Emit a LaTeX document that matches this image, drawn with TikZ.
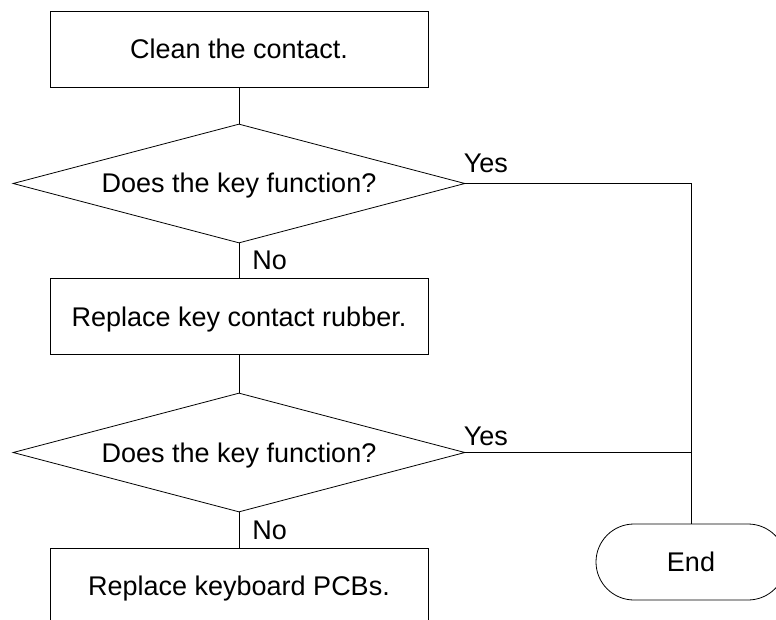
\documentclass[tikz,border=0pt]{standalone}
\usepackage{fontspec}
\setmainfont{Liberation Sans}
\usetikzlibrary{shapes.geometric}
\begin{document}
\begin{tikzpicture}[x=1pt,y=-1pt,line width=0.8pt,font=\fontsize{27}{32}\selectfont]
\tikzstyle{proc}=[draw,shape=rectangle,minimum width=378pt,minimum height=76pt,inner sep=0pt,text height=19pt,text depth=0pt]
\tikzstyle{test}=[draw,shape=diamond,aspect=3.8,minimum width=452pt,minimum height=119pt,inner sep=0pt,text height=19pt,text depth=0pt]
\tikzstyle{term}=[draw,shape=rectangle,rounded corners=38pt,minimum width=190pt,minimum height=76pt]
\tikzstyle{answer}=[inner sep=0pt]
\useasboundingbox (0,0) rectangle (776,620);
\clip (0,0) rectangle (776,620);
\path (239,49) node[proc](clean){Clean the contact.}
      (239,183.5) node[test](q1){Does the key function?}
      (239,316.5) node[proc](rubber){Replace key contact rubber.}
      (239,452.5) node[test](q2){Does the key function?}
      (239,586) node[proc](pcb){Replace keyboard PCBs.}
      (691,562) node[term](finish){End};
\draw[] (clean) -- (q1);
\draw[] (q1) -- node[right,answer,xshift=13pt] {No} (rubber);
\draw[] (rubber) -- (q2);
\draw[] (q2) -- node[right,answer,xshift=13pt] {No} (pcb);
\draw[] (q1.east) -- node[pos=0,anchor=base west,answer,xshift=-2pt,yshift=11pt] {Yes} (q1.east -| finish.north) -- (finish);
\draw[] (q2.east) -- node[pos=0,anchor=base west,answer,xshift=-2pt,yshift=7pt] {Yes} (q2.east -| finish.north);
\end{tikzpicture}
\end{document}
